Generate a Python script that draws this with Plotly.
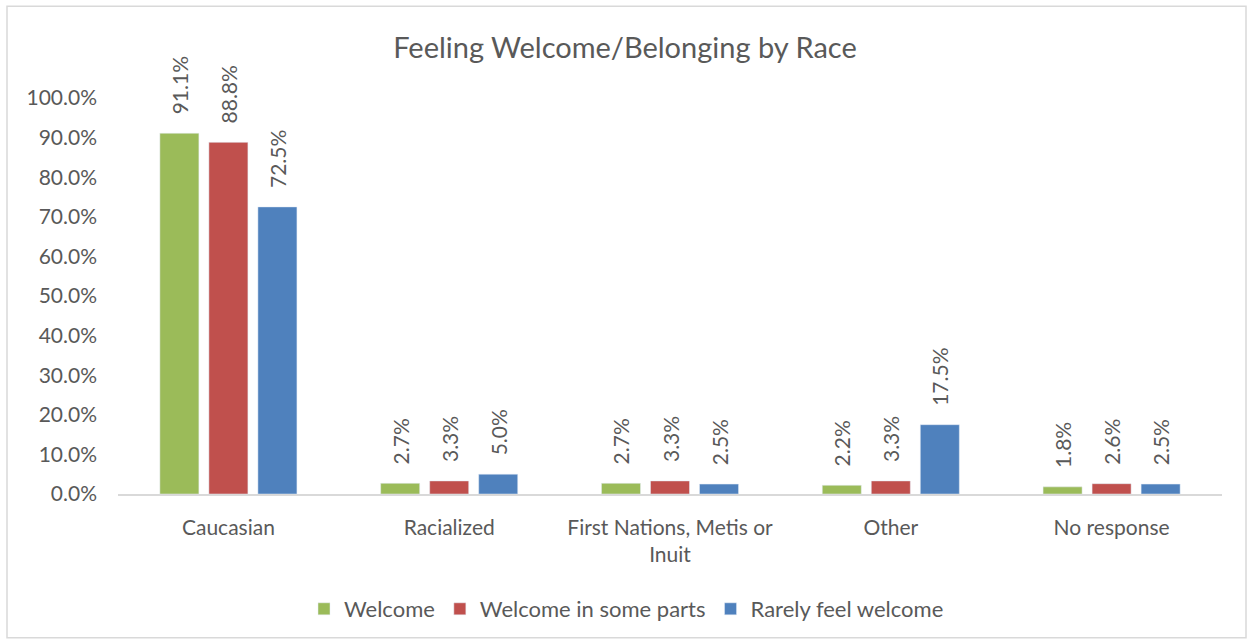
import plotly.graph_objects as go

categories = ["Caucasian", "Racialized", "First Nations, Metis or<br>Inuit", "Other", "No response"]
welcome = [0.911, 0.027, 0.027, 0.022, 0.018]
welcome_some = [0.888, 0.033, 0.033, 0.033, 0.026]
rarely = [0.725, 0.050, 0.025, 0.175, 0.025]
series = [("Welcome", welcome, "#9BBB59"),
          ("Welcome in some parts", welcome_some, "#C0504D"),
          ("Rarely feel welcome", rarely, "#4F81BD")]

W, H = 1250, 641
L, R, T, B = 118, 1222, 98, 495
FONT = "Lato"
GREY = "#595959"

fig = go.Figure()
for name, vals, color in series:
    fig.add_trace(go.Bar(
        x=categories, y=vals, name=name, marker_color=color,
        text=["\u2002\u00a0" + f"{v*100:.1f}%" for v in vals], textposition="outside",
        textangle=-90, cliponaxis=False, constraintext="none",
        textfont=dict(family=FONT, size=21, color=GREY),
    ))

def px(x):
    return (x - L) / (R - L)

def py(y):
    return (B - y) / (B - T)

fig.update_layout(
    width=W, height=H,
    margin=dict(l=L, r=W - R, t=T, b=H - B),
    paper_bgcolor="white", plot_bgcolor="white",
    barmode="group", bargap=0.334, bargroupgap=0.204,
    title=dict(text="Feeling Welcome/Belonging by Race", x=0.5, xanchor="center",
               y=1 - 48 / H, yanchor="middle",
               font=dict(family=FONT, size=29, color=GREY)),
    font=dict(family=FONT, color=GREY),
    legend=dict(orientation="h", x=px(304), xanchor="left", y=py(609), yanchor="middle",
                font=dict(family=FONT, size=22, color=GREY), itemwidth=30, traceorder="normal"),
    xaxis=dict(showline=True, linecolor="#D9D9D9", linewidth=1.5, ticks="",
               tickfont=dict(family=FONT, size=21, color=GREY), showgrid=False,
               ticklabelstandoff=14),
    yaxis=dict(range=[0, 1.0], dtick=0.1, tickformat=".1%", showgrid=False, zeroline=False,
               ticks="", tickfont=dict(family=FONT, size=21, color=GREY),
               ticklabelstandoff=20),
    shapes=[dict(type="rect", xref="paper", yref="paper",
                 x0=px(7), x1=px(1246), y0=py(6), y1=py(639),
                 line=dict(color="#D9D9D9", width=1.5), fillcolor="rgba(0,0,0,0)", layer="below")],
)

fig.write_html("out.html", config={"displayModeBar": False},
               post_script="document.body.style.margin='0';document.body.style.padding='0';")
